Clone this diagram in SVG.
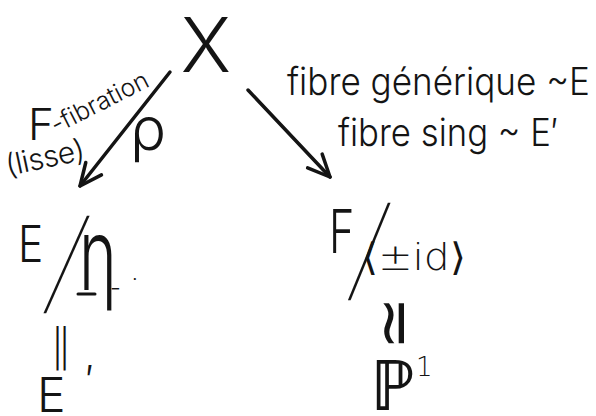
<svg xmlns="http://www.w3.org/2000/svg" width="596" height="416" viewBox="0 0 596 416">
<style>
  text { font-family: "Inter", "Liberation Sans", sans-serif; font-weight: 300; fill: #141414; }
  .sym { font-family: "DejaVu Sans", "Liberation Sans", sans-serif; font-weight: 200; }
  .slash { font-weight: 100; }
  .edge { stroke: #141414; stroke-width: 3.5; fill: none; stroke-linecap: round; }
  .mark { stroke: #141414; stroke-width: 3; fill: none; stroke-linecap: round; }
</style>
<defs>
  <marker id="arrow" viewBox="-26 -14 30 28" markerWidth="30" markerHeight="28" refX="0" refY="0" orient="auto" markerUnits="userSpaceOnUse">
    <path d="M -22 -10 L 0 0 L -22 10" stroke="#141414" stroke-width="3.5" fill="none" stroke-linecap="round" stroke-linejoin="round"/>
  </marker>
</defs>
<rect width="596" height="416" fill="#ffffff"/>

<g id="connectors">
  <line id="edge-rho" class="edge" x1="170" y1="72" x2="80" y2="186" marker-end="url(#arrow)"/>
  <line id="edge-right" class="edge" x1="248" y1="90" x2="330" y2="177" marker-end="url(#arrow)"/>
</g>

<g id="node-X">
  <text x="206" y="72" font-size="76" text-anchor="middle" font-weight="250">X</text>
</g>

<g id="label-left">
  <text x="28" y="140" font-size="44">F</text>
  <text transform="translate(56,134) rotate(-27)" font-size="25">-fibration</text>
  <text transform="translate(8,176) rotate(-12)" font-size="30" textLength="80">(lisse)</text>
  <text x="130" y="150" font-size="60">ρ</text>
</g>

<g id="label-right">
  <text x="287" y="95" font-size="38" textLength="303" lengthAdjust="spacingAndGlyphs">fibre générique ~E</text>
  <text x="338" y="146" font-size="38" textLength="220" lengthAdjust="spacingAndGlyphs">fibre sing ~ E′</text>
</g>

<g id="node-E-eta">
  <text transform="translate(18,262) scale(0.85,1)" font-size="50">E</text>
  <text class="slash" transform="translate(42,301) skewX(-10)" font-size="112">/</text>
  <text transform="translate(79,290) scale(0.8,1.25)" font-size="80">η</text>
  <line class="mark" x1="78" y1="294" x2="95" y2="294"/>
  <text x="110" y="296" font-size="24">-</text>
  <text x="132" y="286" font-size="20">·</text>
</g>

<g id="iso-left">
  <text class="sym" x="61" y="360" font-size="44" text-anchor="middle">‖</text>
</g>

<g id="node-E-prime">
  <text x="37" y="412" font-size="48">E<tspan dx="20" dy="-18" font-size="40">′</tspan></text>
</g>

<g id="node-F-id">
  <text transform="translate(329,253) scale(0.72,1)" font-size="60">F</text>
  <text class="slash" transform="translate(346,288) skewX(-8)" font-size="112">/</text>
  <text class="sym" x="362" y="270" font-size="38" textLength="104" lengthAdjust="spacingAndGlyphs">⟨±id⟩</text>
</g>

<g id="iso-right">
  <text class="sym" transform="translate(393,323) rotate(-90)" font-size="64" text-anchor="middle" dominant-baseline="central">≃</text>
</g>

<g id="node-P1">
  <text class="sym" x="370" y="410" font-size="70">ℙ<tspan dy="-34" font-size="26">1</tspan></text>
</g>
</svg>
